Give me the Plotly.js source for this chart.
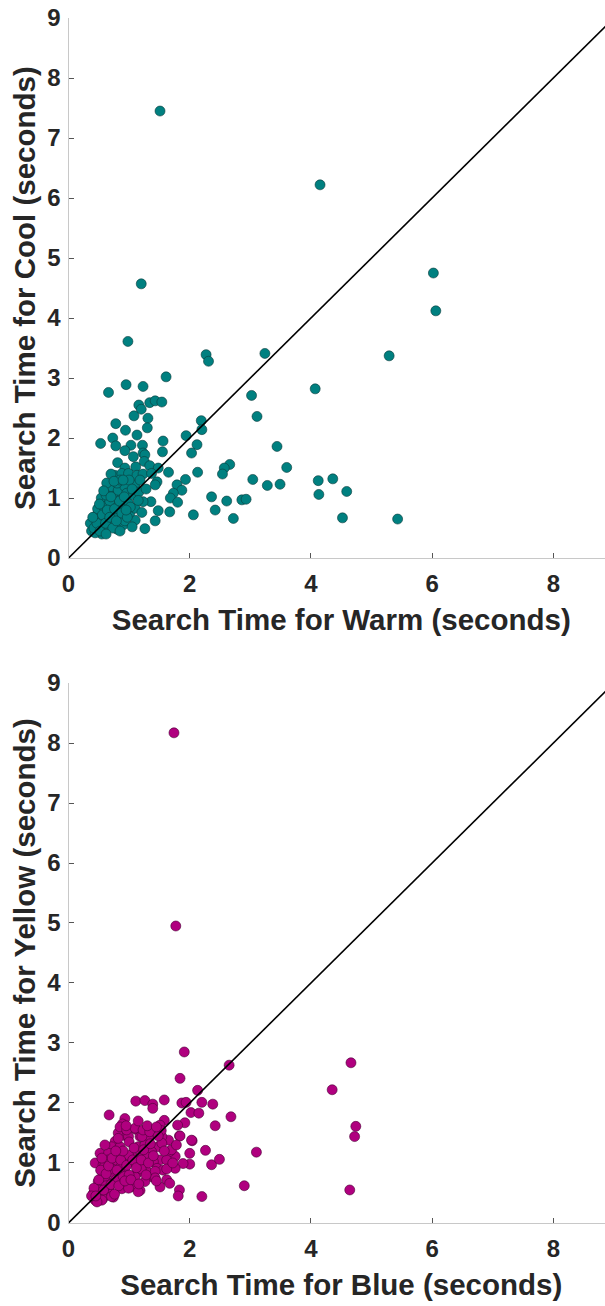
<!DOCTYPE html>
<html>
<head>
<meta charset="utf-8">
<script src="https://cdn.plot.ly/plotly-3.0.1.min.js"></script>
<style>
  html, body { margin: 0; padding: 0; background: #fff; overflow: hidden; }
  #chart { width: 615px; height: 1306px; }
</style>
</head>
<body>
<div id="chart"></div>
<script>
// Search times per participant (seconds): warm vs cool targets
const warmTimes = [1.51,4.15,1.20,6.02,6.06,0.98,5.29,3.24,2.27,2.31,1.61,0.66,0.95,1.23,4.07,3.02,1.16,1.20,1.34,1.43,
  1.54,3.11,0.78,1.08,1.31,0.94,1.30,2.19,2.20,0.53,0.73,1.13,1.56,1.94,0.78,1.03,1.22,0.93,1.07,1.23,
  1.26,1.55,2.12,2.03,3.44,0.81,1.11,1.25,1.34,1.48,0.93,2.66,2.57,2.54,3.60,1.65,0.76,0.88,0.99,1.13,
  1.23,1.37,2.13,1.93,1.46,1.43,1.79,1.87,1.73,1.68,1.80,3.04,3.28,3.49,4.12,4.36,4.13,4.59,4.52,5.43,
  2.36,2.61,2.86,2.93,2.42,2.72,2.06,1.67,1.48,1.36,1.23,1.43,1.26,1.10,1.01,1.10,0.99,0.87,0.74,0.66,
  0.54,0.63,0.76,0.85,0.70,0.82,0.93,0.96,0.63,0.52,0.44,0.41,0.49,0.55,0.57,0.66,0.74,0.82,0.66,0.77,
  0.90,0.90,1.07,1.10,0.38,0.45,0.50,0.48,0.60,0.58,0.65,0.70,0.72,0.36,0.44,0.53,0.60,0.68,0.80,0.85,
  0.62,1.00,1.16,0.93,0.80,1.21,
  0.42,0.47,0.52,0.56,0.61,0.64,0.68,0.73,0.76,0.79,0.84,0.88,0.92,0.97,1.02,1.05,0.58,0.70,0.75,0.90,
  1.18,1.28,1.15,0.40,0.51,0.70,0.95,1.05,0.85,0.62];
const coolTimes = [7.45,6.22,4.57,4.75,4.12,3.61,3.37,3.41,3.39,3.28,3.02,2.76,2.89,2.86,2.82,2.71,2.55,2.48,2.59,2.62,
  2.60,2.36,2.24,2.37,2.33,2.13,2.17,2.29,2.14,1.91,2.00,2.05,1.95,2.04,1.87,1.88,1.88,1.79,1.69,1.75,
  1.72,1.77,1.89,1.75,1.86,1.59,1.52,1.61,1.54,1.50,1.50,1.56,1.50,1.40,1.51,1.43,1.38,1.41,1.41,1.38,
  1.40,1.41,1.43,1.31,1.27,1.22,1.22,1.13,1.08,1.00,0.93,1.31,1.21,1.23,1.29,1.32,1.06,1.11,0.67,0.65,
  1.02,0.95,0.97,0.98,0.80,0.66,0.72,0.77,0.79,0.94,0.94,0.62,0.49,0.63,0.75,0.83,0.91,1.00,1.08,1.13,
  1.00,0.94,0.91,0.86,1.19,1.13,1.19,1.08,1.25,0.77,0.63,0.52,0.44,0.40,0.55,0.63,0.55,0.66,0.74,0.74,
  0.69,0.55,1.05,1.22,0.45,0.70,0.52,0.82,0.45,0.86,0.50,0.82,0.60,0.58,0.42,0.63,0.70,0.95,1.25,1.30,
  1.05,1.30,1.10,0.62,0.48,0.76,
  0.50,0.58,0.45,0.72,0.58,0.80,0.68,0.50,0.82,0.62,0.95,0.75,1.02,0.68,0.85,1.15,1.12,1.40,1.28,1.30,
  1.30,1.15,0.96,0.68,0.90,1.02,0.80,0.52,0.45,0.40];

// Search times per participant (seconds): blue vs yellow targets
const blueTimes = [1.74,1.77,4.66,4.35,4.74,4.72,4.64,1.91,2.65,1.84,2.13,1.11,1.26,1.39,1.39,1.58,1.87,1.94,2.20,2.38,
  2.02,2.15,0.67,2.68,0.93,1.58,1.51,1.92,1.80,2.42,3.10,2.90,2.20,1.83,1.81,2.36,2.49,2.26,2.00,2.04,
  1.83,2.00,1.89,1.76,1.76,1.62,1.67,1.51,1.65,1.54,1.48,1.51,1.67,0.89,0.82,0.97,1.11,1.23,1.37,1.53,
  0.77,0.96,1.18,1.32,0.71,0.85,1.15,1.26,0.52,0.68,0.82,1.04,1.20,1.33,0.44,0.57,0.77,0.93,1.10,1.26,
  1.40,1.46,0.57,0.74,0.93,1.13,1.29,1.37,0.49,0.65,0.85,1.04,1.26,0.41,0.55,0.68,0.88,1.04,1.18,0.44,
  0.57,0.74,1.56,1.62,1.70,1.37,0.99,0.66,0.60,1.43,1.43,1.10,0.60,0.52,0.66,0.99,1.15,0.71,0.55,0.47,
  0.82,0.99,1.21,1.54,0.85,0.96,1.10,1.23,1.34,1.84,2.03,0.50,0.62,0.78,0.90,1.00,0.85,1.20,0.72,0.65,
  1.30,0.42,0.38,
  0.45,0.50,0.53,0.58,0.62,0.66,0.70,0.72,0.76,0.80,0.83,0.86,0.90,0.93,0.96,1.00,1.03,1.06,1.08,1.12,
  1.16,1.20,1.24,1.28,1.32,1.35,1.40,1.45,1.48,1.58,1.62,1.72,1.78,0.60,0.78,0.95,1.15,1.30,1.45,0.55];
const yellowTimes = [8.17,4.95,2.67,2.22,1.61,1.44,0.55,2.85,2.63,2.41,2.21,2.03,2.04,1.98,1.91,2.05,2.00,2.01,2.01,1.98,
  1.84,1.83,1.80,1.77,1.74,1.71,1.63,1.67,1.63,1.62,1.18,0.62,0.44,0.55,0.45,0.97,1.06,1.21,1.16,1.37,
  1.45,0.98,0.99,1.11,0.91,0.72,0.66,0.60,1.38,1.44,1.27,1.05,1.19,1.65,1.50,1.56,1.56,1.50,1.50,1.54,
  1.36,1.44,1.44,1.41,1.27,1.27,1.27,1.30,1.16,1.15,1.13,1.13,1.15,1.20,1.00,0.97,1.00,0.98,1.00,0.97,
  1.02,0.91,0.83,0.83,0.86,0.83,0.86,0.77,0.69,0.68,0.69,0.67,0.69,0.49,0.47,0.52,0.57,0.60,0.54,0.38,
  0.41,0.43,0.88,1.05,1.22,1.19,1.13,1.16,0.97,0.86,0.75,0.77,0.77,0.63,0.58,0.58,0.52,0.44,0.38,0.35,
  1.41,1.44,1.44,1.33,1.60,1.55,1.58,1.55,1.52,1.45,1.38,0.55,0.62,0.72,0.78,0.80,0.92,0.90,0.90,1.05,
  1.10,0.58,0.45,
  0.45,0.72,0.88,0.55,0.82,0.95,0.64,1.08,0.48,0.88,0.62,1.05,1.20,0.70,0.96,1.35,0.72,1.05,1.25,0.92,
  0.65,1.05,1.22,0.80,1.00,1.32,1.12,0.70,1.45,1.20,0.90,1.00,1.30,1.30,1.20,1.62,1.70,1.62,1.60,1.08];

// Reference line of equal search time
const equalLine = [0, 9];

const xTicks = [0, 2, 4, 6, 8];
const yTicks = [0, 1, 2, 3, 4, 5, 6, 7, 8, 9];

const FONT = '"Liberation Sans", Arial, Helvetica, sans-serif';
const TEXT = '#262626';
const AXIS_RANGE = [0, 9];
const X_DOMAIN = [0.1114, 0.9984];

function markerStyle(fill, edge) {
  return { size: 10, color: fill, line: { color: edge, width: 0.6 } };
}

const traces = [
  { type: 'scatter', mode: 'markers', x: warmTimes, y: coolTimes, xaxis: 'x', yaxis: 'y',
    marker: markerStyle('#008080', '#0b3b3b'), hoverinfo: 'x+y' },
  { type: 'scatter', mode: 'lines', x: equalLine, y: equalLine, xaxis: 'x', yaxis: 'y',
    line: { color: '#000', width: 1.6 }, hoverinfo: 'skip' },
  { type: 'scatter', mode: 'markers', x: blueTimes, y: yellowTimes, xaxis: 'x2', yaxis: 'y2',
    marker: markerStyle('#B0007F', '#4a0036'), hoverinfo: 'x+y' },
  { type: 'scatter', mode: 'lines', x: equalLine, y: equalLine, xaxis: 'x2', yaxis: 'y2',
    line: { color: '#000', width: 1.6 }, hoverinfo: 'skip' }
];

function xAxis(title, anchor) {
  return {
    domain: X_DOMAIN, range: AXIS_RANGE, anchor: anchor,
    tickvals: xTicks, ticks: 'inside', ticklen: 5, tickwidth: 1, tickcolor: '#555',
    showline: true, linecolor: '#c8c8c8', linewidth: 1,
    showgrid: false, zeroline: false, automargin: false,
    tickfont: { family: FONT, size: 24, color: TEXT, weight: 'bold' },
    ticklabelstandoff: 4,
    title: { text: title, standoff: 13, font: { family: FONT, size: 29.5, color: TEXT, weight: 'bold' } }
  };
}
function yAxis(title, domain, anchor) {
  return {
    domain: domain, range: AXIS_RANGE, anchor: anchor,
    tickvals: yTicks, ticks: 'inside', ticklen: 5, tickwidth: 1, tickcolor: '#555',
    showline: true, linecolor: '#c8c8c8', linewidth: 1,
    showgrid: false, zeroline: false, automargin: false,
    tickfont: { family: FONT, size: 24, color: TEXT, weight: 'bold' },
    ticklabelstandoff: 2,
    title: { text: title, standoff: 3, font: { family: FONT, size: 29.5, color: TEXT, weight: 'bold' } }
  };
}
// tick marks along the top edge, without a frame line
function topTicks(overlay, anchor) {
  return {
    overlaying: overlay, anchor: anchor, side: 'top', range: AXIS_RANGE, domain: X_DOMAIN,
    tickvals: xTicks, ticks: 'inside', ticklen: 5, tickcolor: '#555',
    showticklabels: false, showline: false, showgrid: false, zeroline: false
  };
}

const layout = {
  width: 615, height: 1306,
  margin: { l: 0, r: 0, t: 0, b: 0 },
  paper_bgcolor: '#fff', plot_bgcolor: '#fff',
  showlegend: false,
  xaxis: xAxis('Search Time for Warm (seconds)', 'y'),
  yaxis: yAxis('Search Time for Cool (seconds)', [0.5727, 0.9862], 'x'),
  xaxis2: xAxis('Search Time for Blue (seconds)', 'y2'),
  yaxis2: yAxis('Search Time for Yellow (seconds)', [0.0636, 0.477], 'x2'),
  xaxis3: topTicks('x', 'y'),
  xaxis4: topTicks('x2', 'y2')
};

Plotly.newPlot('chart', traces, layout, { displayModeBar: false, staticPlot: true });
</script>
</body>
</html>
